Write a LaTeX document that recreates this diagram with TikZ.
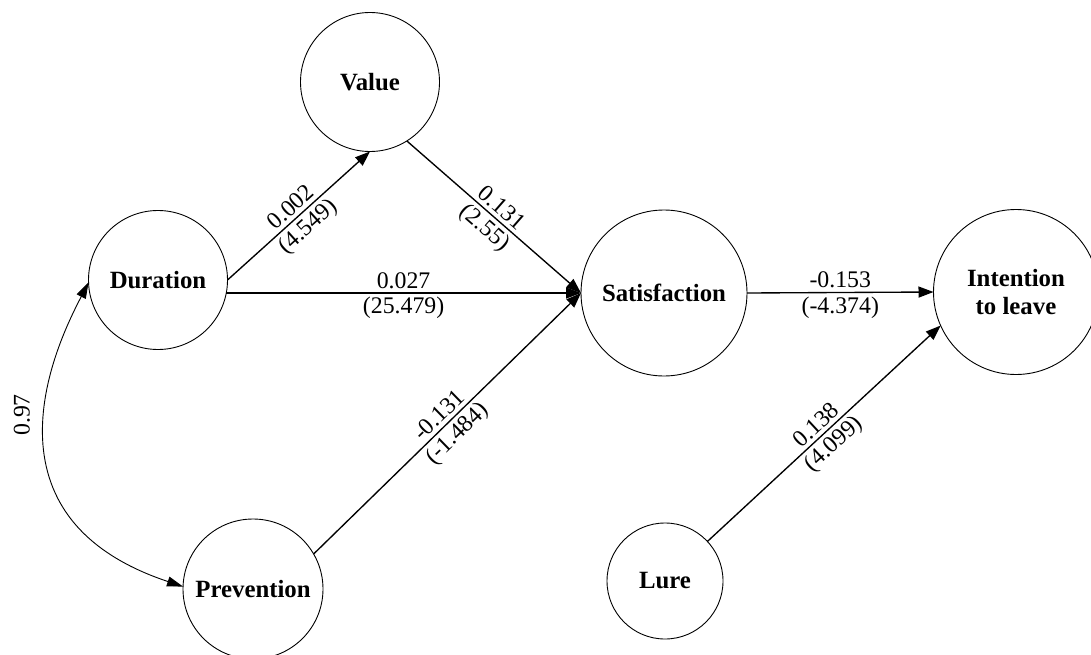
\documentclass[tikz,border=0pt]{standalone}
\usepackage{fontspec}
\setmainfont{Liberation Serif}
\usetikzlibrary{arrows.meta}
\begin{document}
\begin{tikzpicture}[x=1pt,y=-1pt,
  var/.style={draw, circle, line width=0.9pt, inner sep=0pt, outer sep=0pt,
    font=\fontsize{24.8}{28}\selectfont\bfseries, align=center},
  link/.style={line width=1.35pt, -{Triangle[length=15pt,width=11pt]}},
  corr/.style={line width=0.9pt, {Triangle[length=16pt,width=10pt]}-{Triangle[length=16pt,width=10pt]}},
  lab/.style={font=\fontsize{23.8}{28}\selectfont, inner sep=3.5pt},
]
\useasboundingbox (0,0) rectangle (1091,655);
\node[var, minimum size=139pt] (val) at (370,82) {Value};
\node[var, minimum size=139pt] (dur) at (158,280) {Duration};
\node[var, minimum size=166pt] (sat) at (664,293) {Satisfaction};
\node[var, minimum size=165pt] (int) at (1016,292) {Intention\\to leave};
\node[var, minimum size=140pt] (prev) at (253,589) {Prevention};
\node[var, minimum size=116pt] (lure) at (665,581) {Lure};

\draw[link] (dur.east) -- (val.south)
  node[lab, sloped, above, midway] (l1a) {0.002}
  node[lab, sloped, below, midway] (l1b) {(4.549)};
\draw[link] (dur.-11) -- (sat.west -| dur.-11) -- (sat.west)
  node[lab, above, pos=0.5] (l2a) {0.027}
  node[lab, below, pos=0.5] (l2b) {(25.479)};
\draw[link] (val.-58) -- (sat.west)
  node[lab, sloped, above, midway] (l3a) {0.131}
  node[lab, sloped, below, midway] (l3b) {(2.55)};
\draw[link] (prev.30) -- (sat.west)
  node[lab, sloped, above, midway] (l4a) {-0.131}
  node[lab, sloped, below, midway] (l4b) {(-1.484)};
\draw[link] (sat.east) -- (int.west)
  node[lab, above, midway] (l5a) {-0.153}
  node[lab, below, midway] (l5b) {(-4.374)};
\draw[link] (lure.43) -- (int.204)
  node[lab, sloped, above, midway] (l6a) {0.138}
  node[lab, sloped, below, midway] (l6b) {(4.099)};

\draw[corr] (dur.182) .. controls (62,334) and (-32,515) .. (prev.178);
\node[lab, rotate=90] (l7) at (22,415) {0.97};
\end{tikzpicture}
\end{document}
